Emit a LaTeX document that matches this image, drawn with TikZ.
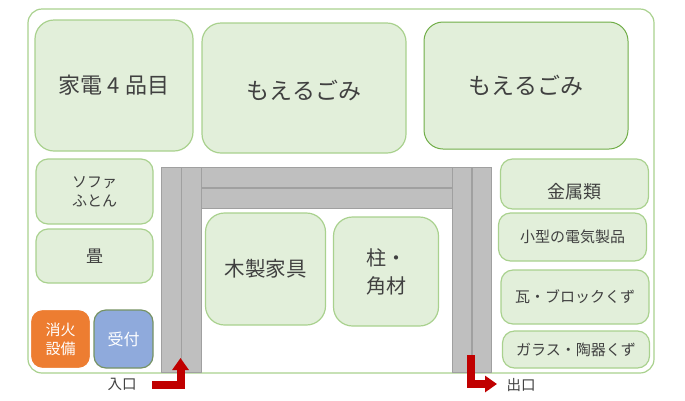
\documentclass[tikz,border=0pt]{standalone}
\usepackage{fontspec}
\setmainfont{Noto Sans CJK JP}
\definecolor{binfill}{HTML}{E2EFDA}
\definecolor{binline}{HTML}{A9D18E}
\definecolor{binlinedark}{HTML}{70AD47}
\definecolor{laneline}{HTML}{A0A0A0}
\definecolor{lanefill}{HTML}{BFBFBF}
\definecolor{arrowred}{HTML}{C00000}
\definecolor{labeltext}{HTML}{404040}
\definecolor{shokafill}{HTML}{ED7D31}
\definecolor{uketsukefill}{HTML}{8FAADC}
\usetikzlibrary{arrows.meta}

\begin{document}
\begin{tikzpicture}[x=1pt,y=-1pt,
  bin/.style={draw=binline,fill=binfill,line width=1.2pt,rounded corners=12pt,inner sep=0pt,align=center,text=labeltext,font=\fontsize{15}{19}\selectfont},
  bigbin/.style={bin,rounded corners=19pt},
  lane/.style={draw=laneline,fill=lanefill,line width=1pt,inner sep=0pt},
  way/.style={draw=arrowred,line width=8pt,-{Triangle[width=16pt,length=12pt]}},
  tag/.style={text=labeltext,inner sep=0pt,font=\fontsize{14.5}{16}\selectfont}]
\useasboundingbox (0,0) rectangle (685,400);

\node[draw=binline,line width=1.2pt,rounded corners=14pt,minimum width=626pt,minimum height=364pt] (yard) at (341,191) {};

\node[bigbin,minimum width=158pt,minimum height=131pt,font=\fontsize{22}{24}\selectfont] (kaden) at (114,85.5) {家電\hspace{5.5pt}4\hspace{5.5pt}品目};
\node[bigbin,minimum width=204pt,minimum height=130pt,font=\fontsize{23}{26}\selectfont] (moeruA) at (304,88) {\rule{0pt}{25pt}もえるごみ};
\node[bigbin,draw=binlinedark,line width=1pt,minimum width=204pt,minimum height=127pt,font=\fontsize{23}{26}\selectfont] (moeruB) at (526,85.5) {もえるごみ};

\node[bin,minimum width=117pt,minimum height=65pt] (sofa) at (94.5,191.5) {ソファ\\ふとん};
\node[bin,minimum width=117pt,minimum height=54pt,font=\fontsize{17}{20}\selectfont] (tatami) at (94.5,256) {畳};
\node[bin,draw=white,fill=shokafill,text=white,minimum width=60pt,minimum height=59pt] (shoka) at (60.5,339) {消火\\設備};
\node[bin,draw=binline!70!black,fill=uketsukefill,text=white,minimum width=59pt,minimum height=58pt,font=\fontsize{16}{19}\selectfont] (uketsuke) at (123.5,339) {受付};

\node[lane,minimum width=19.5pt,minimum height=205pt] (laneA) at (171.5,269.5) {};
\node[lane,minimum width=19.5pt,minimum height=205pt] (laneB) at (191.5,269.5) {};
\node[lane,minimum width=251pt,minimum height=20pt] (laneC) at (326.5,177) {};
\node[lane,minimum width=251pt,minimum height=20pt] (laneD) at (326.5,198) {};
\node[lane,minimum width=19.5pt,minimum height=205pt] (laneE) at (462,269.5) {};
\node[lane,minimum width=19.5pt,minimum height=205pt] (laneF) at (482,269.5) {};

\node[bigbin,minimum width=120pt,minimum height=112pt,font=\fontsize{20.5}{24}\selectfont] (mokusei) at (265.5,269) {木製家具};
\node[bigbin,minimum width=105pt,minimum height=109pt,font=\fontsize{20}{28}\selectfont] (hashira) at (386,271.5) {柱・\\角材};

\node[bin,minimum width=148pt,minimum height=50pt,font=\fontsize{18}{20}\selectfont] (kinzoku) at (574.5,184) {\rule{0pt}{30pt}金属類};
\node[bin,minimum width=148pt,minimum height=48pt] (kogata) at (572.5,237) {小型の電気製品};
\node[bin,minimum width=148pt,minimum height=54pt] (kawara) at (575,297) {瓦・ブロックくず};
\node[bin,minimum width=147pt,minimum height=37pt] (garasu) at (576,349.5) {ガラス・陶器くず};

\node[tag] (iriguchi) at (122,384) {入口};
\node[tag] (deguchi) at (521,385) {出口};

\coordinate (inStart) at (152,385);
\coordinate (inEnd) at (180.5,358);
\coordinate (outStart) at (471,355);
\coordinate (outEnd) at (497,384);
\draw[way] (inStart) -| (inEnd);
\draw[way] (outStart) |- (outEnd);
\end{tikzpicture}
\end{document}
